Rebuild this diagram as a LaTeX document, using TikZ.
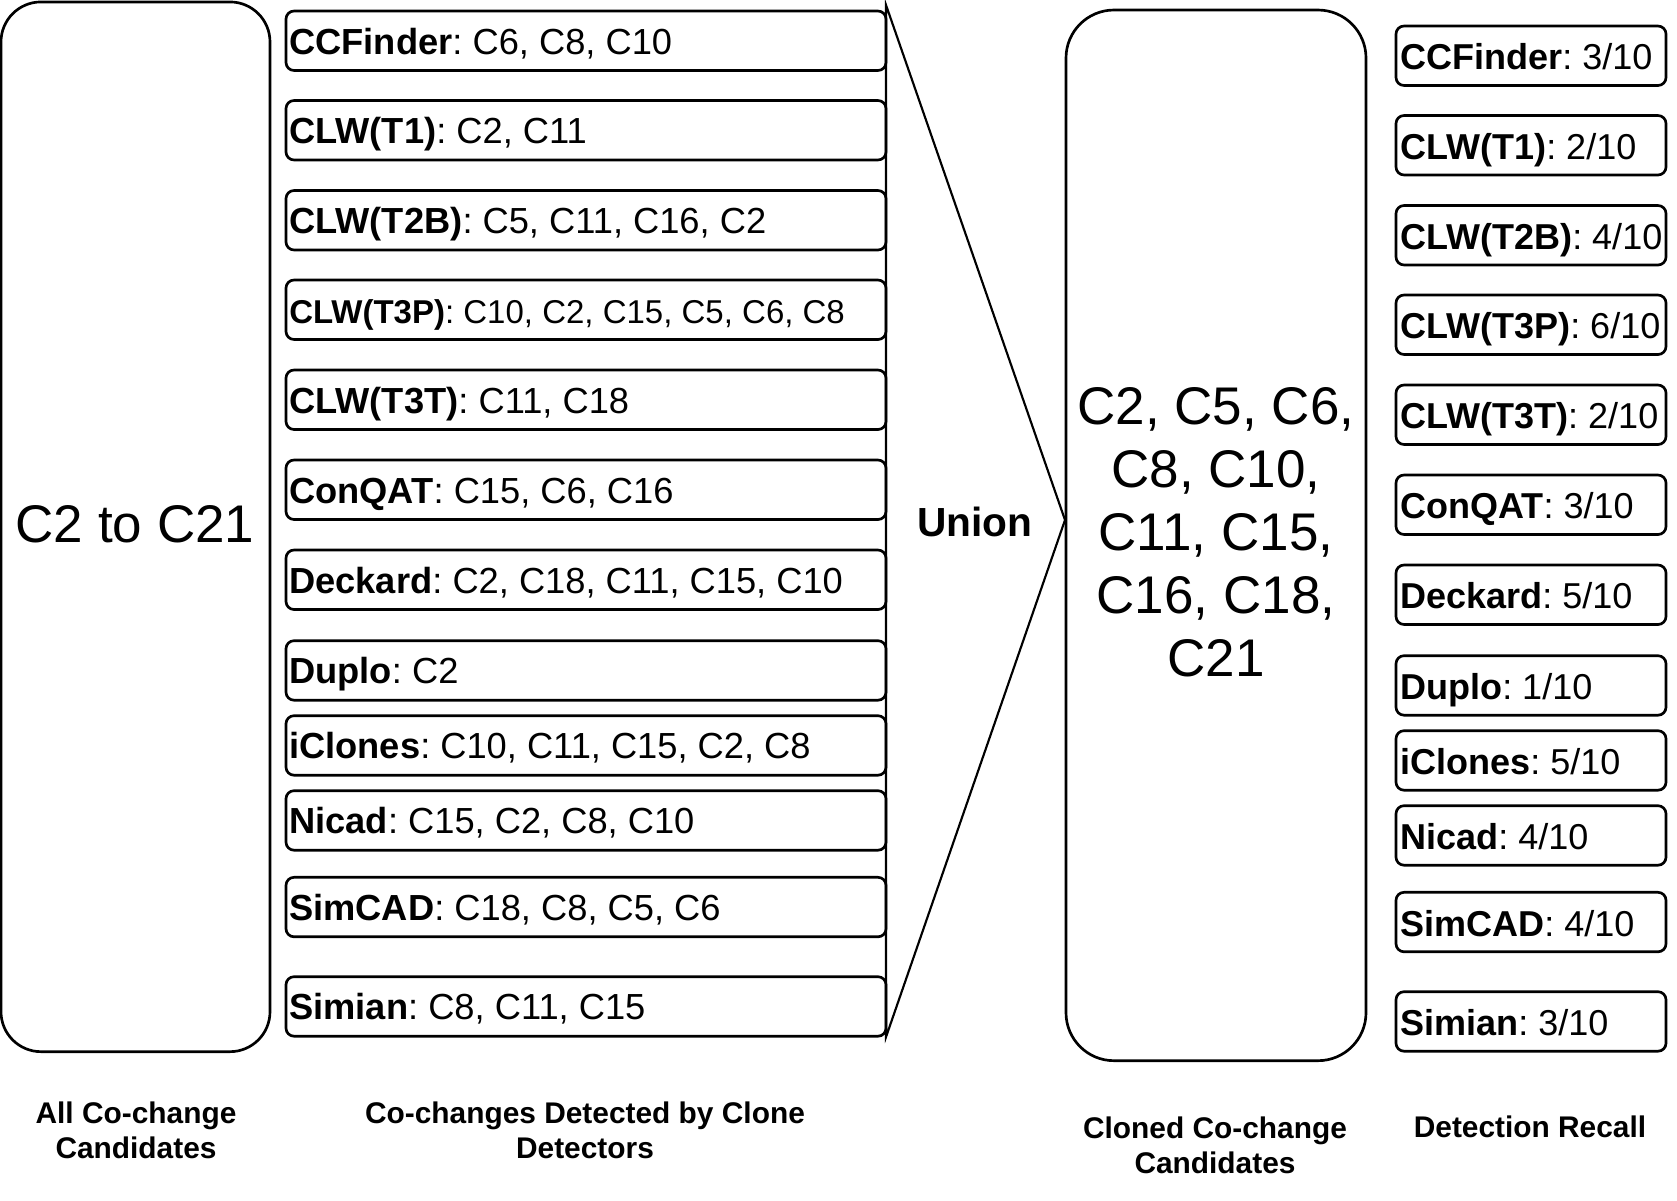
\documentclass[tikz,border=0pt]{standalone}
\usepackage{fontspec}
\setmainfont{Liberation Sans}
\frenchspacing
\begin{document}
\begin{tikzpicture}[x=0.75pt,y=-0.75pt,
  bigbox/.style={draw, line width=2pt, inner sep=0pt},
  rowbox/.style={draw, line width=2pt, rounded corners=6pt, minimum height=44.6pt, inner sep=0pt},
  midbox/.style={rowbox, minimum width=450pt},
  recbox/.style={rowbox, minimum width=202.5pt},
  rowtext/.style={anchor=base west, inner sep=0pt},
  caption/.style={font=\bfseries\fontsize{22.4}{26.5}\selectfont, align=center, inner sep=0pt},
]
\useasboundingbox (0,0) rectangle (1677,1200);

% left big box
\node[bigbox, rounded corners=30pt, minimum width=201.75pt, minimum height=787.3pt] (all) at (135.5,526.8) {};
\node[anchor=base, inner sep=0pt, font=\fontsize{39.75}{47.25}\selectfont] (alltext) at (135,542) {C2 to C21};

% detector rows
\foreach \i/\t/\nm/\mid/\rec/\fs in {
  1/11/CCFinder/{C6, C8, C10}/{3/10}/27.2,
  2/100.5/CLW(T1)/{C2, C11}/{2/10}/27.2,
  3/190.5/CLW(T2B)/{C5, C11, C16, C2}/{4/10}/27.2,
  4/280/CLW(T3P)/{C10, C2, C15, C5, C6, C8}/{6/10}/24.75,
  5/370/CLW(T3T)/{C11, C18}/{2/10}/27.2,
  6/460/ConQAT/{C15, C6, C16}/{3/10}/27.2,
  7/550/Deckard/{C2, C18, C11, C15, C10}/{5/10}/27.2,
  8/640.7/Duplo/{C2}/{1/10}/27.2,
  9/715.7/iClones/{C10, C11, C15, C2, C8}/{5/10}/27.2,
  10/790.7/Nicad/{C15, C2, C8, C10}/{4/10}/27.2,
  11/877.3/SimCAD/{C18, C8, C5, C6}/{4/10}/27.2,
  12/976.7/Simian/{C8, C11, C15}/{3/10}/27.2}{
  \node[midbox] (m\i) at (586,\t+29.75) {};
  \node[rowtext, font=\fontsize{\fs}{\fs}\selectfont] (mt\i) at (289,\t+43) {\textbf{\nm}: \mid};
  \node[recbox] (r\i) at (1531,\t+15+29.75) {};
  \node[rowtext, font=\fontsize{27}{27}\selectfont] (rt\i) at (1400,\t+15+43.75) {\textbf{\nm}: \rec};
}

% union shape
\coordinate (utop) at (886,5);
\coordinate (uapex) at (1065,520);
\coordinate (ubot) at (886,1037);
\draw[line width=1.6pt, line join=miter] (utop) -- (uapex) -- (ubot) -- cycle;
\node[anchor=base, inner sep=0pt, font=\bfseries\fontsize{30.5}{30.5}\selectfont] (union) at (975,536) {Union};

% right big box
\node[bigbox, rounded corners=36pt, minimum width=225pt, minimum height=788pt] (cloned) at (1216,535.35) {};
\node[align=center, inner sep=0pt, font=\fontsize{39.75}{47.25}\selectfont] (clonedtext) at (1216,532.5)
  {C2, C5, C6,\\C8, C10,\\C11, C15,\\C16, C18,\\C21};

% captions
\node[caption] (cap1) at (136,1130) {All Co-change\\Candidates};
\node[caption] (cap2) at (585,1130) {Co-changes Detected by Clone\\Detectors};
\node[caption] (cap3) at (1215,1145) {Cloned Co-change\\Candidates};
\node[caption, anchor=base] (cap4) at (1530,1137) {Detection Recall};
\end{tikzpicture}
\end{document}
